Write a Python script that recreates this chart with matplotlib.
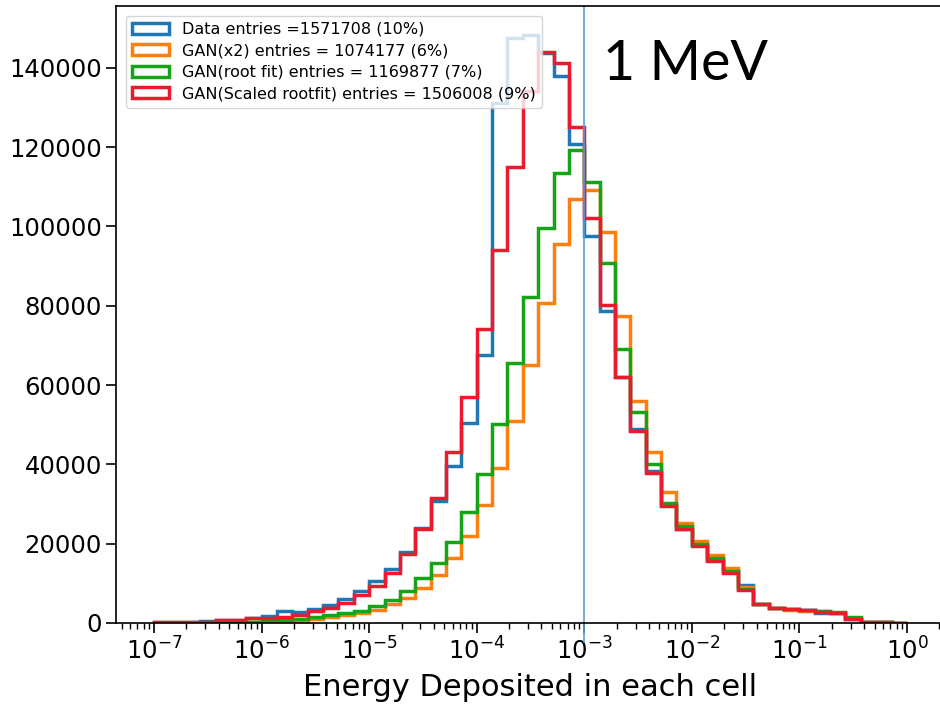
import numpy as np
import matplotlib
matplotlib.use("Agg")
import matplotlib.pyplot as plt

# log-spaced bins, 7 per decade from 1e-7 to 1
edges = np.logspace(-7, 0, 50)

labels = [
    "Data entries =1571708 (10%)",
    "GAN(x2) entries = 1074177 (6%)",
    "GAN(root fit) entries = 1169877 (7%)",
    "GAN(Scaled rootfit) entries = 1506008 (9%)",
]
colors = ["#1f77b4", "#ff7f0e", "#16a316", "#ec1a2c"]

data_counts = [300, 300, 300, 400, 700, 700, 1300, 1800, 3100, 2700,
               3500, 4500, 6000, 8100, 10500, 13700, 18000, 23900, 30800, 39600,
               50500, 67600, 131100, 147500, 148200, 143800, 138000, 120900, 97600, 78800,
               62000, 48900, 38400, 29800, 23800, 19900, 15800, 13200, 9600, 4800,
               3900, 3500, 3300, 2400, 2500, 1000, 250, 150, 100]
gan_x2_counts = [0, 0, 0, 50, 100, 150, 200, 300, 400, 600,
                 1000, 1500, 2100, 2600, 3400, 4900, 6200, 8800, 12100, 16300,
                 22000, 29800, 39200, 51000, 65100, 80700, 95500, 107000, 109100, 98700,
                 77500, 56100, 43000, 33000, 25200, 20700, 17200, 13800, 9200, 4800,
                 3900, 3300, 3000, 3000, 2600, 1300, 250, 150, 100]
gan_root_counts = [0, 0, 50, 100, 150, 200, 300, 500, 700, 1000,
                   1400, 1900, 2500, 3000, 4200, 5700, 8100, 11400, 15200, 20500,
                   28100, 37700, 50200, 65500, 82300, 99700, 113600, 119300, 111100, 90800,
                   69100, 53100, 40200, 30200, 24400, 19900, 16300, 13200, 8700, 4800,
                   3900, 3500, 3400, 3000, 2800, 1600, 250, 150, 100]
gan_scaled_counts = [200, 200, 300, 300, 700, 700, 1200, 1300, 1600, 2000,
                     3000, 3700, 5100, 7100, 9300, 12500, 17400, 23600, 31400, 43000,
                     56900, 74100, 94100, 115100, 134100, 144000, 141200, 125000, 102100, 80200,
                     62000, 48400, 37800, 29400, 23600, 19500, 15600, 12500, 8200, 4800,
                     3900, 3600, 3300, 2800, 2400, 1000, 250, 150, 100]

series = [data_counts, gan_x2_counts, gan_root_counts, gan_scaled_counts]

fig = plt.figure(figsize=(9.4, 7.11), dpi=100)
ax = fig.add_axes([116.4 / 940, 88 / 711, 828.2 / 940, 617 / 711])

for counts, c, lab in zip(series, colors, labels):
    ax.hist(edges[:-1], bins=edges, weights=counts, histtype="step",
            color=c, linewidth=2.5, label=lab)

ax.set_xscale("log")
ax.set_xlim(10 ** -7.35, 10 ** 0.35)
ax.set_ylim(0, 155600)
ax.set_yticks(np.arange(0, 140001, 20000))
ax.tick_params(axis="both", labelsize=17.5, length=7, width=1.2)
ax.tick_params(axis="x", which="minor", length=4, width=1)
ax.set_xlabel("Energy Deposited in each cell", fontsize=22, labelpad=6)
for s in ax.spines.values():
    s.set_linewidth(1.2)

ax.legend(loc="upper left", fontsize=11.5, handlelength=2.3,
          borderaxespad=0.6, labelspacing=0.4)

# marker line at 1 MeV
ax.axvline(1e-3, ymin=-0.03, ymax=1.0, color="#5b9bd5", linewidth=1.2,
           clip_on=False)
fig.text(603 / 940, 1 - 80 / 711, "1 MeV", fontsize=40, family="Lato",
         ha="left", va="baseline")

fig.savefig("out.png", dpi=100)
